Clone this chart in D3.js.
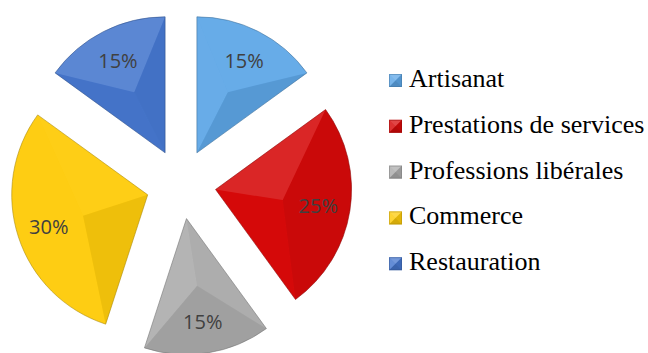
<!DOCTYPE html>
<html>
<head>
<meta charset="utf-8">
<script src="https://cdn.jsdelivr.net/npm/d3@7"></script>
<style>
  html, body { margin: 0; padding: 0; background: #ffffff; }
  svg { display: block; }
</style>
</head>
<body>
<svg id="chart" width="648" height="353"></svg>
<script>
// ---- data ----
const categories = ["Artisanat", "Prestations de services", "Professions libérales", "Commerce", "Restauration"];
const values = [15, 25, 15, 30, 15];
const labels = ["15%", "25%", "15%", "30%", "15%"];
const colors = ["#5EA7E7", "#D60A0A", "#ADADAD", "#FECC0C", "#4677CE"];

// ---- layout ----
const cx = 181, cy = 184;
const R = 136;
const explode = 35;
const labelR = 104;

const svg = d3.select("#chart");

// ---- legend ----
const legendX = 389, legendY0 = 87, legendStep = 45.8, box = 13;
const lg = svg.append("g");

const light = [-0.55, -0.83];
function pt(a, r) { return [Math.sin(a) * r, -Math.cos(a) * r]; }
function shadeFill(n, k) {
  const d = n[0] * light[0] + n[1] * light[1];
  return d >= 0 ? { c: "#ffffff", o: 0.12 * k * d } : { c: "#000000", o: 0.08 * k * -d };
}

categories.forEach((name, i) => {
  const y = legendY0 + i * legendStep;
  const row = lg.append("g").attr("transform", `translate(${legendX},${y})`);
  const x0 = 0, y0 = -box, x1 = box, y1 = 0, mx = box / 2, my = -box / 2;
  row.append("rect").attr("x", x0).attr("y", y0).attr("width", box).attr("height", box).attr("fill", colors[i]);
  const tris = [
    { p: `M${x0},${y0}L${x1},${y0}L${mx},${my}Z`, n: [0, -1] },
    { p: `M${x1},${y0}L${x1},${y1}L${mx},${my}Z`, n: [1, 0] },
    { p: `M${x1},${y1}L${x0},${y1}L${mx},${my}Z`, n: [0, 1] },
    { p: `M${x0},${y1}L${x0},${y0}L${mx},${my}Z`, n: [-1, 0] }
  ];
  tris.forEach(t => {
    const s = shadeFill(t.n, 2.5);
    row.append("path").attr("d", t.p).attr("fill", s.c).attr("fill-opacity", s.o);
  });
  row.append("rect").attr("x", x0 + 0.5).attr("y", y0 + 0.5).attr("width", box - 1).attr("height", box - 1)
    .attr("fill", "none").attr("stroke", d3.color(colors[i]).darker(1)).attr("stroke-opacity", 0.5);
  row.append("text")
    .attr("x", 20).attr("y", 0)
    .style("font-family", '"Liberation Serif"')
    .style("font-size", "26px")
    .attr("fill", "#000000")
    .text(name);
});

// ---- pie ----
const pie = d3.pie().sort(null).value(d => d).startAngle(0).endAngle(2 * Math.PI);
const arcs = pie(values);

const arc = d3.arc().innerRadius(0).outerRadius(R);
const labelArc = d3.arc().innerRadius(labelR).outerRadius(labelR);

const g = svg.append("g").attr("transform", `translate(${cx},${cy})`);

arcs.forEach((d, i) => {
  const mid = (d.startAngle + d.endAngle) / 2;
  const off = pt(mid, explode);
  const sg = g.append("g").attr("transform", `translate(${off[0]},${off[1]})`);
  const base = d3.color(colors[i]);

  sg.append("path").attr("d", arc(d)).attr("fill", colors[i]);

  const S = pt(d.startAngle, R), E = pt(d.endAngle, R);
  const P = pt(mid, R * 0.5);
  const facets = [
    { path: `M0,0L${S[0]},${S[1]}L${P[0]},${P[1]}Z`, n: pt(d.startAngle - Math.PI / 2, 1) },
    { path: `M0,0L${E[0]},${E[1]}L${P[0]},${P[1]}Z`, n: pt(d.endAngle + Math.PI / 2, 1) }
  ];
  const arcPath = d3.path();
  arcPath.moveTo(S[0], S[1]);
  arcPath.arc(0, 0, R, d.startAngle - Math.PI / 2, d.endAngle - Math.PI / 2, false);
  arcPath.lineTo(P[0], P[1]);
  arcPath.closePath();
  facets.push({ path: arcPath.toString(), n: pt(mid, 1) });
  facets.forEach(f => {
    const s = shadeFill(f.n, 1);
    sg.append("path").attr("d", f.path).attr("fill", s.c).attr("fill-opacity", s.o);
  });

  sg.append("path").attr("d", arc(d))
    .attr("fill", "none")
    .attr("stroke", base.darker(1.2))
    .attr("stroke-opacity", 0.55)
    .attr("stroke-width", 1);

  const c = labelArc.centroid(d);
  sg.append("text")
    .attr("x", c[0]).attr("y", c[1])
    .attr("text-anchor", "middle")
    .attr("dominant-baseline", "central")
    .style("font-family", '"Open Sans"')
    .style("font-size", "20px")
    .attr("fill", "#404040")
    .text(labels[i]);
});
</script>
</body>
</html>
